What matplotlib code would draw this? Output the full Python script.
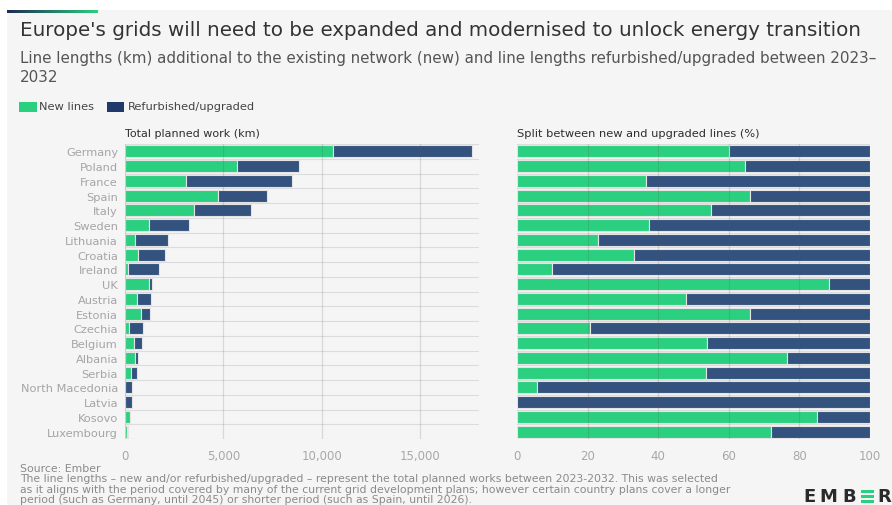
import matplotlib
matplotlib.use("Agg")
import matplotlib.pyplot as plt
import numpy as np
from matplotlib.patches import Rectangle

countries = ["Germany", "Poland", "France", "Spain", "Italy", "Sweden", "Lithuania",
             "Croatia", "Ireland", "UK", "Austria", "Estonia", "Czechia", "Belgium",
             "Albania", "Serbia", "North Macedonia", "Latvia", "Kosovo", "Luxembourg"]
new_km = [10590, 5712, 3102, 4746, 3509, 1220, 508, 678, 170, 1200,
          624, 830, 193, 474, 520, 330, 19, 0, 230, 108]
refurb_km = [7040, 3136, 5406, 2458, 2881, 2051, 1695, 1373, 1559, 156,
             681, 430, 739, 407, 160, 285, 320, 339, 41, 42]
left_ticks = [0, 5000, 10000, 15000]
left_ticklabels = ["0", "5,000", "10,000", "15,000"]
right_ticks = [0, 20, 40, 60, 80, 100]

GREEN = "#2ad07f"
NAVY = "#33527e"
BG = "#f5f5f5"
INK = "#2e2e2e"
MUTED = "#a8a8a8"

plt.rcParams["font.family"] = ["DejaVu Sans"]

new = np.array(new_km, dtype=float)
ref = np.array(refurb_km, dtype=float)
tot = new + ref
new_pct = new / tot * 100
ref_pct = ref / tot * 100
y = np.arange(len(countries))

W, H = 892, 506
fig = plt.figure(figsize=(W / 100, H / 100), dpi=100)
fig.patch.set_facecolor(BG)


def fx(px):
    return px / W


def fy(py):
    return 1 - py / H


# white margins (top and left) round the grey card, gradient accent line
fig.patches.append(Rectangle((0, fy(11)), 1, 11 / H, transform=fig.transFigure,
                             facecolor="white", edgecolor="none", zorder=-10))
fig.patches.append(Rectangle((0, 0), fx(7), 1, transform=fig.transFigure,
                             facecolor="white", edgecolor="none", zorder=-10))
gax = fig.add_axes([fx(7), fy(13.5), fx(91), 2.5 / H])
gax.imshow(np.linspace(0, 1, 256)[None, :], aspect="auto",
           cmap=matplotlib.colors.LinearSegmentedColormap.from_list("g", ["#1d2b52", "#2ad07f"]))
gax.axis("off")

fig.text(fx(20), fy(31), "Europe's grids will need to be expanded and modernised to unlock energy transition",
         fontsize=14.3, color="#333333", va="center", ha="left")
fig.text(fx(20), fy(58), "Line lengths (km) additional to the existing network (new) and line lengths refurbished/upgraded between 2023–",
         fontsize=10.9, color="#555555", va="center", ha="left")
fig.text(fx(20), fy(78), "2032", fontsize=10.9, color="#555555", va="center", ha="left")

# legend
fig.patches.append(Rectangle((fx(19), fy(113)), fx(18), 10 / H, transform=fig.transFigure,
                             facecolor=GREEN, edgecolor="none"))
fig.text(fx(39), fy(107.5), "New lines", fontsize=8.2, color="#444444", va="center")
fig.patches.append(Rectangle((fx(107), fy(113)), fx(17), 10 / H, transform=fig.transFigure,
                             facecolor="#1d3a6b", edgecolor="none"))
fig.text(fx(128), fy(107.5), "Refurbished/upgraded", fontsize=8.2, color="#444444", va="center")

top, bot = 145, 440
ax1 = fig.add_axes([fx(125), fy(bot), fx(354), (bot - top) / H])
ax2 = fig.add_axes([fx(517), fy(bot), fx(353), (bot - top) / H])

bkw = dict(height=0.8, edgecolor="#e4e4e4", linewidth=0.8, zorder=2)
ax1.barh(y, new, color=GREEN, **bkw)
ax1.barh(y, ref, left=new, color=NAVY, **bkw)
ax2.barh(y, new_pct, color=GREEN, **bkw)
ax2.barh(y, ref_pct, left=new_pct, color=NAVY, **bkw)

for ax in (ax1, ax2):
    ax.set_facecolor(BG)
    ax.set_ylim(len(countries) - 0.5, -0.5)
    for s in ax.spines.values():
        s.set_visible(False)
    ax.tick_params(length=0, labelsize=8.5, colors=MUTED, pad=7)
    for b in np.arange(len(countries) + 1) - 0.5:
        ax.axhline(b, color="#dcdcdc", lw=0.8, zorder=1)

ax1.set_xlim(0, 18000)
ax1.set_xticks(left_ticks)
ax1.set_xticklabels(left_ticklabels)
for t in left_ticks[1:]:
    ax1.axvline(t, color="#555555", alpha=0.18, lw=0.9, zorder=3)
ax1.axvline(0, color="#cccccc", lw=0.8, zorder=3)
ax1.set_yticks(y)
ax1.set_yticklabels(countries, fontsize=8.2, color="#a5a5a5")
ax1.tick_params(axis="y", pad=5)

ax2.set_xlim(0, 100)
ax2.set_xticks(right_ticks)
ax2.set_yticks([])
for t in right_ticks[1:-1]:
    ax2.axvline(t, color="#555555", alpha=0.18, lw=0.9, zorder=3)

fig.text(fx(125), fy(134), "Total planned work (km)", fontsize=8, color=INK, va="center")
fig.text(fx(517), fy(134), "Split between new and upgraded lines (%)", fontsize=8.2, color=INK, va="center")

fig.text(fx(20), fy(469), "Source: Ember", fontsize=7.8, color="#8a8a8a", va="center")
note = ("The line lengths – new and/or refurbished/upgraded – represent the total planned works between 2023-2032. This was selected\n"
        "as it aligns with the period covered by many of the current grid development plans; however certain country plans cover a longer\n"
        "period (such as Germany, until 2045) or shorter period (such as Spain, until 2026).")
fig.text(fx(20), fy(474.5), note, fontsize=7.8, color="#8a8a8a", va="top", linespacing=1.02)

# logo
for letter, px in [("E", 803), ("M", 819), ("B", 842)]:
    fig.text(fx(px), fy(497.5), letter, fontsize=13, fontweight="bold", color="#2a2a2a",
             va="center", ha="left")
for k in range(3):
    fig.patches.append(Rectangle((fx(861), fy(491 + k * 5.2) - 2.6 / H), fx(13), 2.6 / H,
                                 transform=fig.transFigure, facecolor=GREEN, edgecolor="none"))
fig.text(fx(877), fy(497.5), "R", fontsize=13, fontweight="bold", color="#2a2a2a", va="center")

fig.savefig("out.png", dpi=100, facecolor=BG)
